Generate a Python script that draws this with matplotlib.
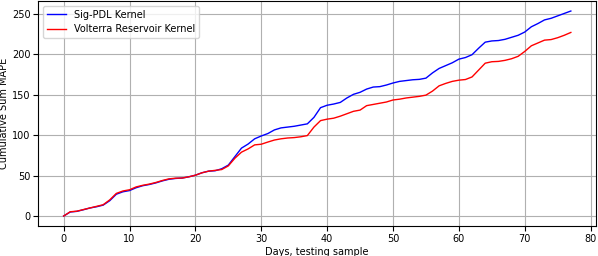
import matplotlib
matplotlib.use("Agg")
from matplotlib import pyplot as plot

# cumulative sum of MAPE per testing day
days = list(range(78))

sigPdl = [0, 5, 5.8, 7.8, 10, 11.5, 13.5, 19, 27, 30,
          31.5, 35, 37.5, 39, 41, 43.5, 45.5, 46.5, 47, 48.5,
          50.5, 53.5, 55.5, 56, 58.5, 63, 73.5, 84, 89, 95.5,
          99, 102, 106.5, 109, 110, 111, 112.5, 114, 122, 134,
          137, 138.5, 140.5, 146, 150.5, 153, 157, 159.5, 160, 162,
          164.5, 166.5, 167.5, 168.5, 169, 170.5, 177, 182.5, 186, 189.5,
          194, 196, 199.5, 207.5, 215, 216.5, 217, 218.5, 221, 223.5,
          227.5, 234, 238, 242.5, 244.5, 247.5, 250.5, 253.5]

volterra = [0, 5.3, 6, 8, 10, 12, 14, 20, 28, 31,
            32.5, 36, 38, 39.5, 41.5, 44, 46, 46.8, 47, 48.5,
            50.5, 53.5, 55.5, 56.5, 57.5, 62, 71.5, 79, 83, 88,
            88.8, 91.5, 94, 95.5, 96.5, 97, 98, 99.5, 110, 118,
            119.8, 121, 123.5, 126.5, 129.5, 131, 136.5, 138, 139.5, 141,
            143.5, 144.5, 146, 147, 148, 149.5, 154.5, 161, 164, 166.5,
            168, 168.8, 172, 180.5, 189, 190.8, 191.2, 192.5, 194.5, 197.5,
            203.5, 210.5, 214, 217.5, 218.2, 220.5, 223.5, 227]


def main():
    plot.rcParams["font.size"] = 7
    figure = plot.figure(figsize=(5.98, 2.56), dpi=100)
    axis = figure.add_axes([0.064, 0.116, 0.933, 0.881])

    axis.plot(days, sigPdl, color="blue", linewidth=1, label="Sig-PDL Kernel")
    axis.plot(days, volterra, color="red", linewidth=1, label="Volterra Reservoir Kernel")

    axis.set_xlabel("Days, testing sample", labelpad=2)
    axis.set_ylabel("Cumulative Sum MAPE", labelpad=2)
    axis.set_xticks([0, 10, 20, 30, 40, 50, 60, 70, 80])
    axis.set_yticks([0, 50, 100, 150, 200, 250])
    axis.tick_params(labelsize=7, pad=2)
    axis.grid(True, color="#b0b0b0", linewidth=0.8)
    axis.legend(loc="upper left", fontsize=7)

    figure.savefig("out.png", dpi=100)


if (__name__ == "__main__"):
    main()
